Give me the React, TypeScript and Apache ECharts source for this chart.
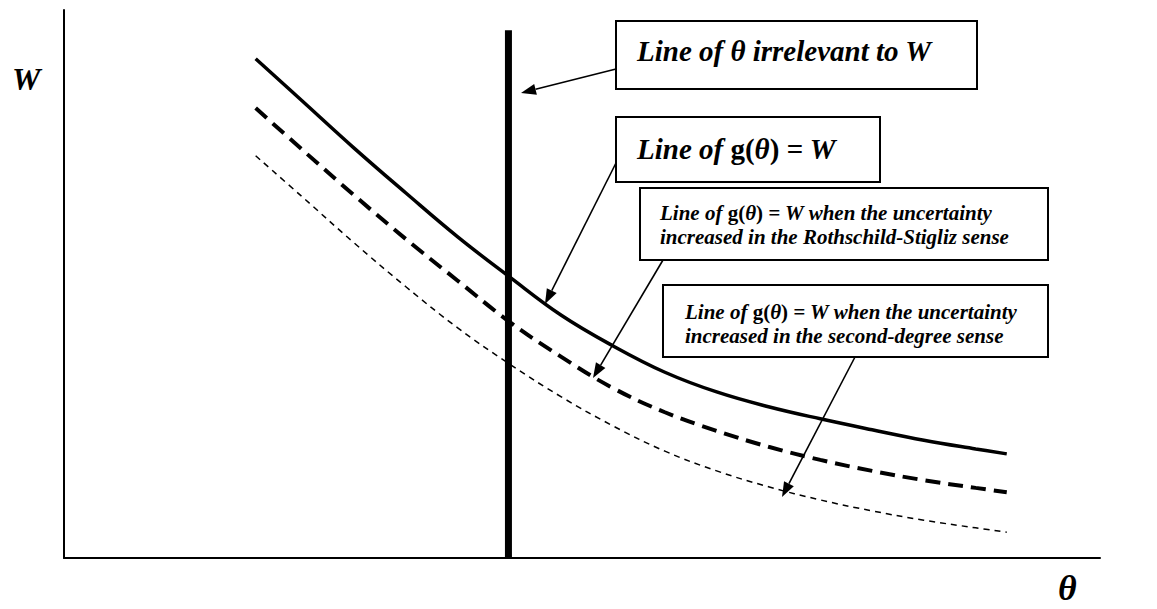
import React, { useEffect, useRef } from "react";
import * as echarts from "echarts";

// theta positions (abstract 0-100 scale) shared by the three curves
const thetaValues = [18.5, 23, 28, 33, 38, 43, 48, 53, 58, 63, 68, 73, 78, 83, 88, 91];
// g(theta) = W
const baseCurve = [91.1, 83.4, 74.8, 66.6, 58.6, 51.3, 44.3, 38.7, 33.9, 30.3, 27.6, 25.4, 23.4, 21.5, 19.9, 19.0];
// g(theta) = W when uncertainty increased in the Rothschild-Stiglitz sense
const rsCurve = [82.1, 74.5, 66.2, 58.2, 50.6, 43.1, 36.7, 31.0, 26.6, 23.2, 20.3, 17.9, 15.9, 14.2, 12.8, 12.0];
// g(theta) = W when uncertainty increased in the second-degree sense
const sdCurve = [73.4, 65.9, 57.5, 49.5, 42.0, 35.4, 29.4, 24.1, 19.5, 15.9, 13.0, 10.6, 8.6, 6.9, 5.5, 4.7];
// the theta that is irrelevant to W
const irrelevantTheta = 42.9;
const irrelevantTop = 96.3;

const FONT = "'Liberation Serif', 'Times New Roman', serif";

function arrow(x1: number, y1: number, x2: number, y2: number) {
  const ang = Math.atan2(y2 - y1, x2 - x1);
  const len = 15;
  const half = 5.5;
  const bx = x2 - len * Math.cos(ang);
  const by = y2 - len * Math.sin(ang);
  const px = -Math.sin(ang) * half;
  const py = Math.cos(ang) * half;
  return [
    {
      type: "line",
      shape: { x1, y1, x2: bx, y2: by },
      style: { stroke: "#000", lineWidth: 1.6 },
    },
    {
      type: "polygon",
      shape: { points: [[x2, y2], [bx + px, by + py], [bx - px, by - py]] },
      style: { fill: "#000" },
    },
  ];
}

function box(x: number, y: number, w: number, h: number) {
  return {
    type: "rect",
    shape: { x, y, width: w, height: h },
    style: { fill: "#fff", stroke: "#000", lineWidth: 2 },
  };
}

const rich = (size: number) => ({
  i: { fontFamily: FONT, fontStyle: "italic", fontWeight: "bold", fontSize: size, fill: "#000" },
  n: { fontFamily: FONT, fontStyle: "normal", fontWeight: "bold", fontSize: size, fill: "#000" },
});

function label(x: number, y: number, text: string, size: number) {
  return {
    type: "text",
    x,
    y,
    style: {
      text,
      rich: rich(size),
      fontFamily: FONT,
      fontStyle: "italic",
      fontWeight: "bold",
      fontSize: size,
      fill: "#000",
      verticalAlign: "middle",
      align: "left",
    },
  };
}

export default function App() {
  const ref = useRef<HTMLDivElement>(null);
  useEffect(() => {
    if (!ref.current) return;
    const chart = echarts.init(ref.current, undefined, { renderer: "svg" });
    const mk = (ys: number[]) => thetaValues.map((x, i) => [x, ys[i]]);
    chart.setOption({
      animation: false,
      backgroundColor: "#fff",
      grid: { left: 64, right: 57, top: 10, bottom: 51 },
      xAxis: {
        type: "value",
        min: 0,
        max: 100,
        axisLine: { show: true, onZero: false, lineStyle: { color: "#000", width: 2 } },
        axisTick: { show: false },
        axisLabel: { show: false },
        splitLine: { show: false },
      },
      yAxis: {
        type: "value",
        min: 0,
        max: 100,
        axisLine: { show: true, onZero: false, lineStyle: { color: "#000", width: 2 } },
        axisTick: { show: false },
        axisLabel: { show: false },
        splitLine: { show: false },
      },
      series: [
        {
          type: "line",
          data: mk(baseCurve),
          smooth: 0.4,
          showSymbol: false,
          lineStyle: { color: "#000", width: 3.5 },
        },
        {
          type: "line",
          data: mk(rsCurve),
          smooth: 0.4,
          showSymbol: false,
          lineStyle: { color: "#000", width: 4, type: [15, 8] },
        },
        {
          type: "line",
          data: mk(sdCurve),
          smooth: 0.4,
          showSymbol: false,
          lineStyle: { color: "#000", width: 1.5, type: [6, 5] },
        },
        {
          type: "line",
          data: [[irrelevantTheta, 0], [irrelevantTheta, irrelevantTop]],
          showSymbol: false,
          lineStyle: { color: "#000", width: 7 },
        },
      ],
      graphic: [
        ...arrow(616, 69, 521, 93),
        ...arrow(616, 163, 545, 304),
        ...arrow(663, 260, 593, 378),
        ...arrow(855, 357, 782, 497),
        box(616, 21, 361, 68),
        label(637, 51, "Line of θ irrelevant to W", 29),
        box(616, 117, 264, 65),
        label(637, 149, "{i|Line of }{n|g(}{i|θ}{n|)}{i| = W}", 29),
        box(640, 188, 408, 72),
        label(660, 213, "{i|Line of }{n|g(}{i|θ}{n|)}{i| = W when the uncertainty}", 21),
        label(660, 237, "increased in the Rothschild-Stigliz sense", 21),
        box(663, 285, 385, 72),
        label(685, 312, "{i|Line of }{n|g(}{i|θ}{n|)}{i| = W when the uncertainty}", 21),
        label(685, 336, "increased in the second-degree sense", 21),
        label(12, 79, "W", 32),
        label(1058, 588, "θ", 36),
      ],
    });
    return () => chart.dispose();
  }, []);
  return (
    <div
      ref={ref}
      style={{ position: "fixed", left: 0, top: 0, width: 1157, height: 609, background: "#fff" }}
    />
  );
}
